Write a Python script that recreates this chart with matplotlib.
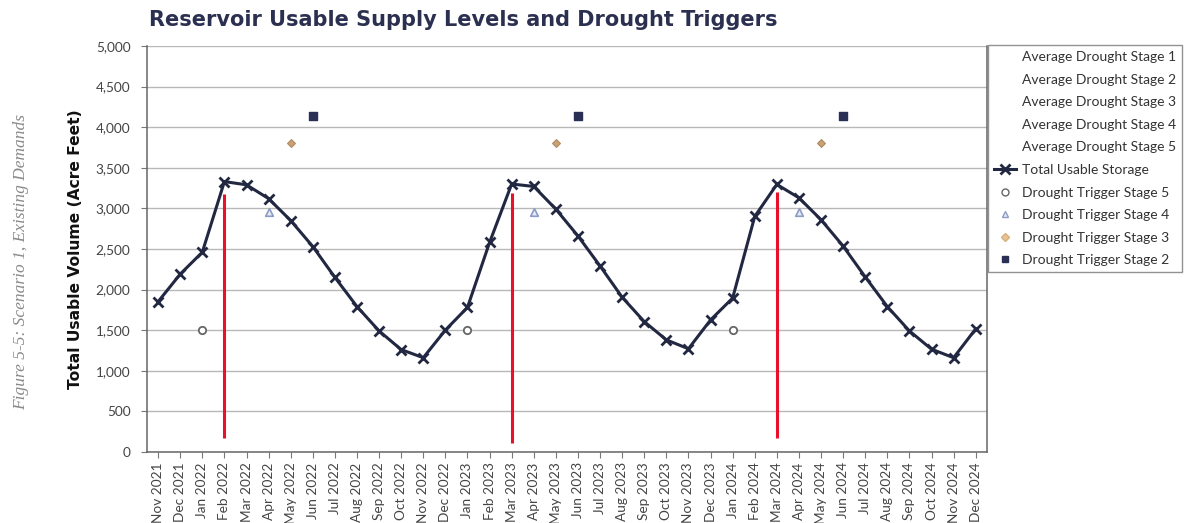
import matplotlib
matplotlib.use("Agg")
import matplotlib.pyplot as plt
from matplotlib.lines import Line2D

months = ["Nov 2021", "Dec 2021",
          "Jan 2022", "Feb 2022", "Mar 2022", "Apr 2022", "May 2022", "Jun 2022",
          "Jul 2022", "Aug 2022", "Sep 2022", "Oct 2022", "Nov 2022", "Dec 2022",
          "Jan 2023", "Feb 2023", "Mar 2023", "Apr 2023", "May 2023", "Jun 2023",
          "Jul 2023", "Aug 2023", "Sep 2023", "Oct 2023", "Nov 2023", "Dec 2023",
          "Jan 2024", "Feb 2024", "Mar 2024", "Apr 2024", "May 2024", "Jun 2024",
          "Jul 2024", "Aug 2024", "Sep 2024", "Oct 2024", "Nov 2024", "Dec 2024"]

storage = [1850, 2190, 2460, 3330, 3290, 3120, 2850, 2530,
           2150, 1790, 1490, 1260, 1160, 1500,
           1780, 2580, 3300, 3270, 2990, 2660,
           2290, 1905, 1605, 1380, 1270, 1625,
           1895, 2900, 3295, 3130, 2860, 2535,
           2155, 1790, 1490, 1265, 1160, 1515]

# drought trigger points (month label, value)
stage5_months = ["Jan 2022", "Jan 2023", "Jan 2024"]
stage5_vals = [1500, 1500, 1500]
stage4_months = ["Apr 2022", "Apr 2023", "Apr 2024"]
stage4_vals = [2950, 2950, 2950]
stage3_months = ["May 2022", "May 2023", "May 2024"]
stage3_vals = [3810, 3810, 3810]
stage2_months = ["Jun 2022", "Jun 2023", "Jun 2024"]
stage2_vals = [4140, 4140, 4140]

# red marker lines
red_months = ["Feb 2022", "Mar 2023", "Mar 2024"]
red_low = [170, 110, 170]
red_high = [3180, 3190, 3200]

navy = "#232842"
grid_c = "#b8b8b8"
tick_c = "#444444"

fig = plt.figure(figsize=(11.86, 5.23), dpi=100)
ax = fig.add_axes([0.124, 0.136, 0.708, 0.776])

idx = {m: i for i, m in enumerate(months)}
x = list(range(len(months)))

ax.set_axisbelow(True)
ax.yaxis.grid(True, color=grid_c, linewidth=1.0)

ax.plot(x, storage, color=navy, linewidth=2.2, marker="x", markersize=7.5,
        markeredgewidth=2.0, zorder=3)

ax.vlines([idx[m] for m in red_months], red_low, red_high, color="#e8102a",
          linewidth=2.2, zorder=4)

ax.scatter([idx[m] for m in stage5_months], stage5_vals, marker="o", s=28,
           facecolors="white", edgecolors="#666666", linewidths=1.3, zorder=5)
ax.scatter([idx[m] for m in stage4_months], stage4_vals, marker="^", s=30,
           facecolors="#e6ebf5", edgecolors="#8c9cc4", linewidths=1.2, zorder=5)
ax.scatter([idx[m] for m in stage3_months], stage3_vals, marker="D", s=16,
           facecolors="#c9a275", edgecolors="#b08a60", linewidths=0.8, zorder=5)
ax.scatter([idx[m] for m in stage2_months], stage2_vals, marker="s", s=36,
           facecolors="#2a2f55", edgecolors="#2a2f55", zorder=5)

ax.set_xlim(-0.5, len(months) - 0.5)
ax.set_ylim(0, 5000)
ax.set_yticks(range(0, 5001, 500))
ax.set_yticklabels([f"{v:,}" for v in range(0, 5001, 500)])
ax.set_xticks(x)
ax.set_xticklabels(months, rotation=90)
ax.tick_params(axis="both", colors="#777777", labelcolor=tick_c, labelsize=9.8,
               length=4)
for tl in ax.get_xticklabels() + ax.get_yticklabels():
    tl.set_family("Lato")
ax.tick_params(axis="y", pad=8)

for s in ["left", "bottom", "right"]:
    ax.spines[s].set_color("#666666")
    ax.spines[s].set_linewidth(1.1)
ax.spines["top"].set_visible(False)

ax.set_ylabel("Total Usable Volume (Acre Feet)", fontsize=11.2,
              fontweight="bold", color="#111111", labelpad=9)

fig.text(0.126, 0.962, "Reservoir Usable Supply Levels and Drought Triggers",
         fontsize=15, fontweight="heavy", color="#2b3050",
         ha="left", va="center")

fig.text(0.018, 0.50, "Figure 5-5: Scenario 1, Existing Demands", rotation=90,
         fontsize=12.5, style="italic", family="Liberation Serif",
         color="#8a8a8a", ha="center", va="center")

blank = Line2D([], [], linestyle="none", marker=None)
handles = [blank] * 5 + [
    Line2D([], [], color=navy, linewidth=2.2, marker="x", markersize=7,
           markeredgewidth=2),
    Line2D([], [], linestyle="none", marker="o", markersize=5,
           markerfacecolor="white", markeredgecolor="#666666"),
    Line2D([], [], linestyle="none", marker="^", markersize=5,
           markerfacecolor="#e6ebf5", markeredgecolor="#8c9cc4"),
    Line2D([], [], linestyle="none", marker="D", markersize=4,
           markerfacecolor="#e8c290", markeredgecolor="#d8b080"),
    Line2D([], [], linestyle="none", marker="s", markersize=5,
           markerfacecolor="#2a2f55", markeredgecolor="#2a2f55"),
]
labels = ["Average Drought Stage 1", "Average Drought Stage 2",
          "Average Drought Stage 3", "Average Drought Stage 4",
          "Average Drought Stage 5", "Total Usable Storage",
          "Drought Trigger Stage 5", "Drought Trigger Stage 4",
          "Drought Trigger Stage 3", "Drought Trigger Stage 2"]
leg = fig.legend(handles, labels, loc="upper left",
                 bbox_to_anchor=(0.833, 0.914), bbox_transform=fig.transFigure,
                 borderaxespad=0, frameon=True, fancybox=False,
                 edgecolor="#777777", handlelength=1.6, handletextpad=0.4,
                 labelspacing=0.76, prop={"family": "Lato", "size": 10},
                 labelcolor="#333333", borderpad=0.45)
leg.get_frame().set_linewidth(1.0)

fig.savefig("out.png", dpi=100)
